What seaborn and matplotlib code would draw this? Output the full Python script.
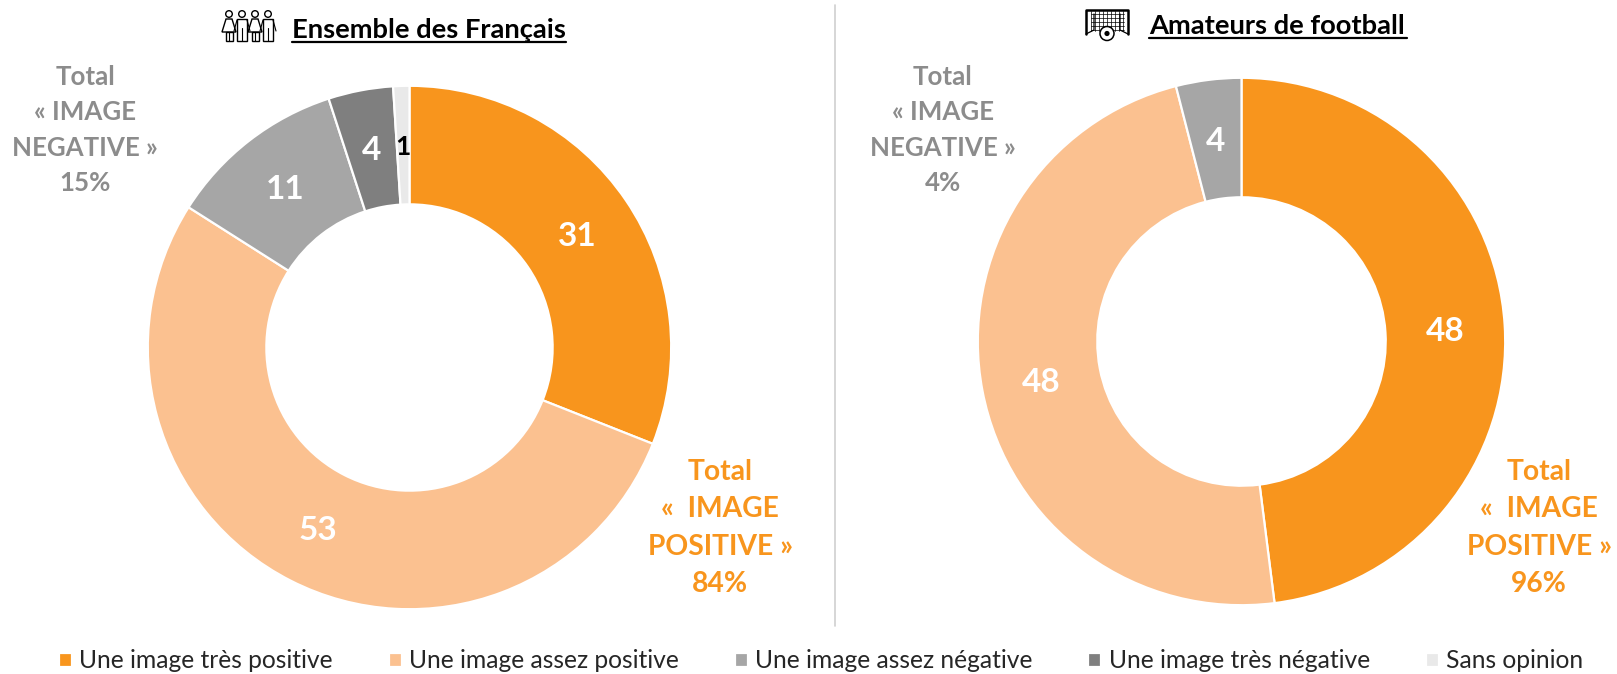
import matplotlib
matplotlib.use("Agg")
import matplotlib.pyplot as plt
import seaborn as sns
from matplotlib.patches import Circle, Polygon, Rectangle

categories = ["Une image très positive", "Une image assez positive",
              "Une image assez négative", "Une image très négative", "Sans opinion"]
francais_values = [31, 53, 11, 4, 1]
football_values = [48, 48, 4]
colors = ["#F8951D", "#FBC190", "#A6A6A6", "#7F7F7F", "#E9E9E9"]
football_colors = ["#F8951D", "#FBC190", "#A6A6A6"]
label_colors = ["white", "white", "white", "white", "black"]

title_left = "Ensemble des Français"
title_right = "Amateurs de football"
negative_left = "Total\n« IMAGE\nNEGATIVE »\n15%"
negative_right = "Total\n« IMAGE\nNEGATIVE »\n4%"
positive_left = "Total\n«  IMAGE\nPOSITIVE »\n84%"
positive_right = "Total\n«  IMAGE\nPOSITIVE »\n96%"

W, H = 1617, 674
sns.set_theme(style="white")
plt.rcParams["font.family"] = ["Lato", "DejaVu Sans"]
palette = sns.color_palette(colors)
football_palette = sns.color_palette(football_colors)

fig = plt.figure(figsize=(W / 100, H / 100), dpi=100)

# overlay in pixel coordinates for the text, divider and icons
bg = fig.add_axes([0, 0, 1, 1])
bg.set_xlim(0, W)
bg.set_ylim(H, 0)
bg.axis("off")


def donut(values, cols, txt_cols, cx, cy, r):
    ax = fig.add_axes([(cx - r) / W, 1 - (cy + r) / H, 2 * r / W, 2 * r / H])
    wedges, texts = ax.pie(
        values, labels=[str(v) for v in values], colors=cols, startangle=90, counterclock=False,
        radius=1, labeldistance=0.775,
        wedgeprops={"width": 0.453, "edgecolor": "white", "linewidth": 1.6},
        textprops={"fontsize": 24, "fontweight": "bold"},
    )
    for t, c in zip(texts, txt_cols):
        t.set_color(c)
        t.set_ha("center")
        t.set_va("center_baseline")
    ax.set_xlim(-1.005, 1.005)
    ax.set_ylim(-1.005, 1.005)
    return wedges, texts


wedges, texts = donut(francais_values, palette, label_colors, 409.5, 347.5, 263)
texts[4].set_fontsize(19)
donut(football_values, football_palette, label_colors, 1241.5, 341.5, 265)

# divider
bg.plot([835, 835], [5, 626], color="#D0D0D0", lw=1.2)

# titles
bg.text(292, 38, title_left, fontsize=19.7, fontweight="bold", color="black", ha="left", va="baseline")
bg.plot([292, 566], [42, 42], color="black", lw=1.6)
bg.text(1149, 34, title_right, fontsize=19.7, fontweight="bold", color="black", ha="left", va="baseline")
bg.plot([1149, 1407], [38, 38], color="black", lw=1.6)

# side totals
for x, y, s, c, fs, ls in [(85, 130, negative_left, "#8C8C8C", 18.6, 1.56),
                           (942.5, 130, negative_right, "#8C8C8C", 18.6, 1.56),
                           (720, 528, positive_left, "#F8951D", 20.3, 1.53),
                           (1539, 528, positive_right, "#F8951D", 20.3, 1.53)]:
    bg.text(x, y, s, fontsize=fs, fontweight="bold", color=c, ha="center", va="center",
            linespacing=ls, multialignment="center")


# people icon
def woman(x):
    bg.add_patch(Circle((x, 14), 3.3, fc="white", ec="black", lw=1))
    bg.add_patch(Polygon([(x - 3, 19), (x + 3, 19), (x + 7, 32), (x - 7, 32)], fc="white", ec="black", lw=1))
    bg.add_patch(Rectangle((x - 3.5, 32), 7, 9, fc="white", ec="black", lw=1))
    bg.plot([x, x], [32, 41], color="black", lw=0.8)


def man(x):
    bg.add_patch(Circle((x, 14), 3.3, fc="white", ec="black", lw=1))
    bg.add_patch(Rectangle((x - 5, 19), 10, 22, fc="white", ec="black", lw=1))
    bg.plot([x, x], [28, 41], color="black", lw=0.8)
    bg.plot([x - 5, x - 8], [20, 31], color="black", lw=0.8)
    bg.plot([x + 5, x + 8], [20, 31], color="black", lw=0.8)


man(242)
man(268)
woman(229)
woman(255)

# goal icon
for gx in range(1091, 1125, 4):
    bg.plot([gx, gx], [11, 31], color="black", lw=0.5)
for gy in range(14, 32, 4):
    bg.plot([1091, 1124], [gy, gy], color="black", lw=0.5)
bg.plot([1086, 1086, 1128, 1128], [34, 10, 10, 34], color="black", lw=1.8)
bg.plot([1086, 1094, 1094], [34, 30, 14], color="black", lw=0.9)
bg.plot([1128, 1120, 1120], [34, 30, 14], color="black", lw=0.9)
bg.add_patch(Circle((1107, 33.5), 7, fc="white", ec="black", lw=1.1, zorder=5))
bg.add_patch(Circle((1107, 33.5), 2.6, fc="black", ec="black", lw=0, zorder=6))

fig.legend(wedges, categories, loc="center", bbox_to_anchor=(821 / W, 1 - 661 / H), ncol=5,
           frameon=False, fontsize=17.7, handlelength=0.53, handleheight=0.53, handletextpad=0.3,
           columnspacing=2.27, borderpad=0, borderaxespad=0)

fig.savefig("out.png", dpi=100)
